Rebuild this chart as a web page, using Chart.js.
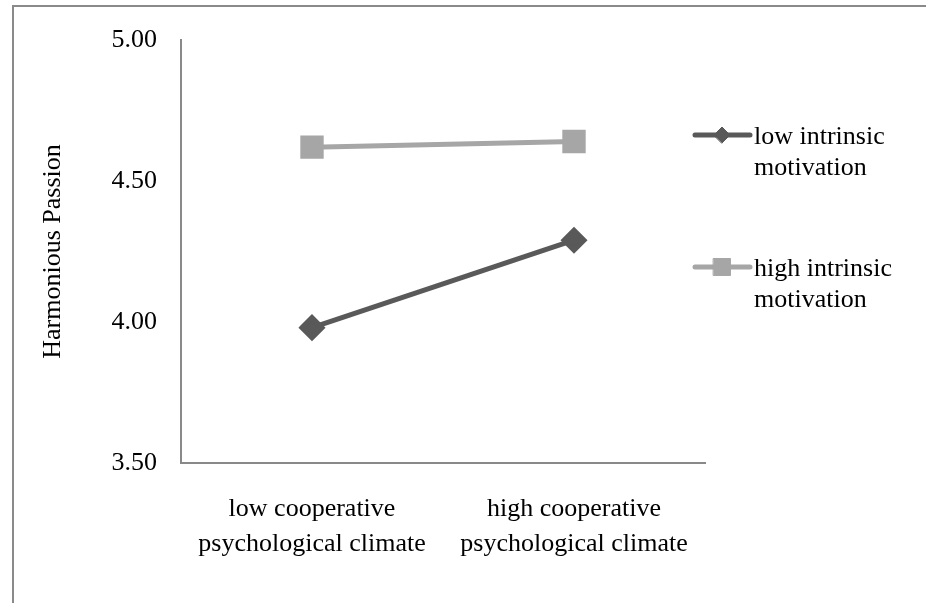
<!DOCTYPE html>
<html>
<head>
<meta charset="utf-8">
<script src="https://cdn.jsdelivr.net/npm/chart.js@4"></script>
<style>
	html, body { margin: 0; padding: 0; background: #fff; }
	#wrap { width: 926px; height: 603px; }
</style>
</head>
<body>
<div id="wrap"><canvas id="chart" width="926" height="603"></canvas></div>
<script>
// Data
const categories = [
	["low cooperative", "psychological climate"],
	["high cooperative", "psychological climate"],
];
const seriesNames = [
	["low intrinsic", "motivation"],
	["high intrinsic", "motivation"],
];
const lowIntrinsic = [3.98, 4.29];
const highIntrinsic = [4.62, 4.64];
const yTicks = [3.5, 4.0, 4.5, 5.0];

const darkGray = "#595959";
const lightGray = "#a6a6a6";
const axisGray = "#898989";
const fontFamily = "'Liberation Serif', 'Times New Roman', serif";

// Outer frame (top and left edge only, like the cropped original)
const framePlugin = {
	id: "frame",
	beforeDraw(chart) {
		const ctx = chart.ctx;
		ctx.save();
		ctx.fillStyle = "#fff";
		ctx.fillRect(0, 0, chart.width, chart.height);
		ctx.strokeStyle = "#8a8a8a";
		ctx.lineWidth = 2;
		ctx.beginPath();
		ctx.moveTo(13, chart.height);
		ctx.lineTo(13, 6);
		ctx.lineTo(chart.width, 6);
		ctx.stroke();
		ctx.restore();
	},
};

// Legend on the right with wrapped labels
const sideLegend = {
	id: "sideLegend",
	afterDraw(chart) {
		const ctx = chart.ctx;
		const area = chart.chartArea;
		const x0 = area.right - 10;
		const rows = [135, 267];
		ctx.save();
		chart.data.datasets.forEach((ds, i) => {
			const y = rows[i];
			ctx.strokeStyle = ds.borderColor;
			ctx.lineWidth = 5;
			ctx.lineCap = "round";
			ctx.beginPath();
			ctx.moveTo(x0, y);
			ctx.lineTo(x0 + 55, y);
			ctx.stroke();
			ctx.fillStyle = ds.pointBackgroundColor;
			ctx.strokeStyle = ds.pointBorderColor;
			ctx.lineWidth = 1;
			Chart.helpers.drawPoint(ctx, {
				pointStyle: ds.pointStyle,
				radius: i === 0 ? 8 : 12,
				borderWidth: 1,
			}, x0 + 27, y);
			ctx.fillStyle = "#000";
			ctx.font = "26px " + fontFamily;
			ctx.textBaseline = "middle";
			ctx.textAlign = "left";
			seriesNames[i].forEach((line, j) => {
				ctx.fillText(line, x0 + 59, y + 2 + j * 31);
			});
		});
		ctx.restore();
	},
};

new Chart(document.getElementById("chart"), {
	type: "line",
	data: {
		labels: categories,
		datasets: [
			{
				label: seriesNames[0].join(" "),
				data: lowIntrinsic,
				borderColor: darkGray,
				backgroundColor: darkGray,
				pointBackgroundColor: darkGray,
				pointBorderColor: darkGray,
				pointStyle: "rectRot",
				pointRadius: 10,
				borderWidth: 5,
			},
			{
				label: seriesNames[1].join(" "),
				data: highIntrinsic,
				borderColor: lightGray,
				backgroundColor: lightGray,
				pointBackgroundColor: lightGray,
				pointBorderColor: lightGray,
				pointStyle: "rect",
				pointRadius: 13,
				borderWidth: 5,
			},
		],
	},
	options: {
		responsive: false,
		animation: false,
		devicePixelRatio: 1,
		layout: {
			padding: { left: 0, right: 221, top: 40, bottom: 0 },
		},
		plugins: {
			legend: { display: false },
			tooltip: { enabled: false },
		},
		elements: {
			line: { tension: 0 },
			point: { borderWidth: 1 },
		},
		scales: {
			x: {
				offset: true,
				grid: { display: false, drawTicks: false },
				border: { display: true, color: axisGray, width: 2 },
				ticks: {
					color: "#000",
					padding: 29,
					maxRotation: 0,
					autoSkip: false,
					font: { family: fontFamily, size: 26, lineHeight: 1.35 },
				},
				afterFit(scale) {
					scale.height = 603 - 463;
				},
			},
			y: {
				min: 3.5,
				max: 5.0,
				afterBuildTicks(scale) {
					scale.ticks = yTicks.map((v) => ({ value: v }));
				},
				grid: { display: false, drawTicks: false },
				border: { display: true, color: axisGray, width: 2 },
				ticks: {
					color: "#000",
					padding: 24,
					font: { family: fontFamily, size: 26 },
					callback: (v) => Number(v).toFixed(2),
				},
				title: {
					display: true,
					text: "Harmonious Passion",
					color: "#000",
					font: { family: fontFamily, size: 26 },
					padding: { top: 38, bottom: 0 },
				},
				afterFit(scale) {
					scale.width = 181;
				},
			},
		},
	},
	plugins: [framePlugin, sideLegend],
});
</script>
</body>
</html>
